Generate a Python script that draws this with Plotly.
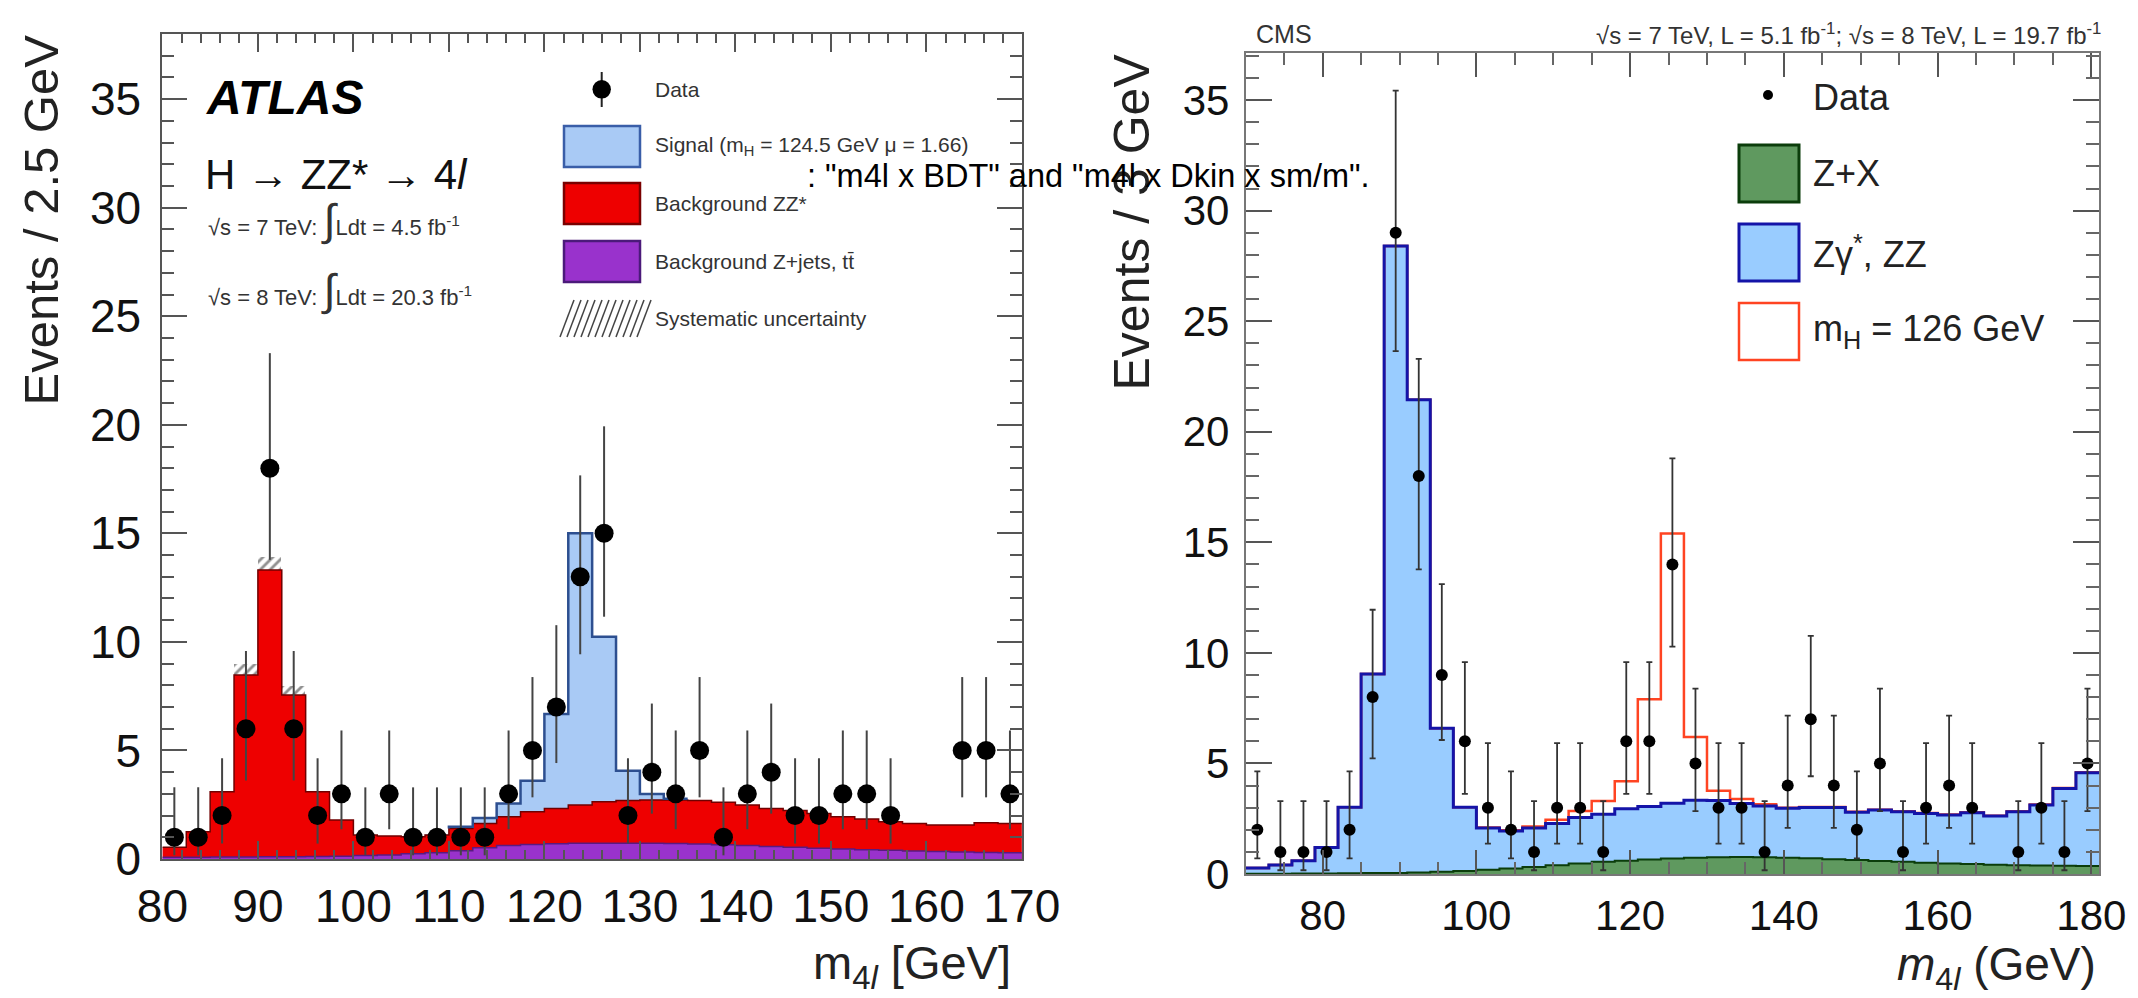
import plotly.graph_objects as go

W, H = 2138, 998
FONT = "Liberation Sans, Arial, Helvetica, sans-serif"

# ---------------- ATLAS (left) ----------------
atlas_edges = [80, 82.5, 85, 87.5, 90, 92.5, 95, 97.5, 100, 102.5, 105, 107.5, 110, 112.5,
               115, 117.5, 120, 122.5, 125, 127.5, 130, 132.5, 135, 137.5, 140, 142.5, 145,
               147.5, 150, 152.5, 155, 157.5, 160, 162.5, 165, 167.5, 170]
atlas_data = [1, 1, 2, 6, 18, 6, 2, 3, 1, 3, 1, 1, 1, 1, 3, 5, 7, 13, 15, 2, 4, 3, 5, 1,
              3, 4, 2, 2, 3, 3, 2, 0, 0, 5, 5, 3]
atlas_err_up = [2.30, 2.30, 2.64, 3.58, 5.30, 3.58, 2.64, 2.92, 2.30, 2.92, 2.30, 2.30, 2.30,
                2.30, 2.92, 3.38, 3.77, 4.67, 4.93, 2.64, 3.16, 2.92, 3.38, 2.30, 2.92, 3.16,
                2.64, 2.64, 2.92, 2.92, 2.64, 0, 0, 3.38, 3.38, 2.92]
atlas_err_dn = [0.83, 0.83, 1.29, 2.38, 4.22, 2.38, 1.29, 1.63, 0.83, 1.63, 0.83, 0.83, 0.83,
                0.83, 1.63, 2.16, 2.58, 3.57, 3.84, 1.29, 1.91, 1.63, 2.16, 0.83, 1.63, 1.91,
                1.29, 1.29, 1.63, 1.63, 1.29, 0, 0, 2.16, 2.16, 1.63]
atlas_zjets = [0.08, 0.08, 0.09, 0.09, 0.10, 0.10, 0.11, 0.13, 0.16, 0.19, 0.24, 0.29, 0.38,
               0.52, 0.62, 0.67, 0.70, 0.72, 0.73, 0.73, 0.72, 0.71, 0.69, 0.66, 0.62, 0.58,
               0.54, 0.50, 0.46, 0.43, 0.40, 0.37, 0.34, 0.32, 0.30, 0.29]
atlas_zz = [0.46, 1.18, 3.01, 8.39, 13.21, 7.45, 2.99, 1.67, 0.94, 0.87, 0.78, 0.81, 1.03,
            1.12, 1.33, 1.51, 1.63, 1.77, 1.91, 1.96, 2.00, 2.01, 2.00, 1.95, 1.87, 1.75,
            1.69, 1.60, 1.49, 1.41, 1.32, 1.27, 1.23, 1.25, 1.37, 1.35]
atlas_signal = [0, 0, 0, 0, 0, 0, 0, 0, 0, 0, 0, 0.05, 0.08, 0.25, 0.61, 1.43, 4.35, 12.51,
                7.60, 1.38, 0.27, 0.06, 0, 0, 0, 0, 0, 0, 0, 0, 0, 0, 0, 0, 0, 0]
atlas_syst = [0, 0, 0, 0.50, 0.62, 0.42, 0, 0, 0, 0, 0, 0, 0, 0, 0, 0, 0, 0, 0, 0, 0, 0, 0, 0,
              0, 0, 0, 0, 0, 0, 0, 0, 0, 0, 0, 0]
atlas_xticks = [80, 90, 100, 110, 120, 130, 140, 150, 160, 170]
atlas_yticks = [0, 5, 10, 15, 20, 25, 30, 35]

# ---------------- CMS (right) ----------------
cms_edges = [70, 73, 76, 79, 82, 85, 88, 91, 94, 97, 100, 103, 106, 109, 112, 115, 118, 121,
             124, 127, 130, 133, 136, 139, 142, 145, 148, 151, 154, 157, 160, 163, 166, 169,
             172, 175, 178, 181]
cms_data = [2, 1, 1, 1, 2, 8, 29, 18, 9, 6, 3, 2, 1, 3, 3, 1, 6, 6, 14, 5, 3, 3, 1, 4, 7, 4,
            2, 5, 1, 3, 4, 3, 0, 1, 3, 1, 5]
cms_err_up = [2.64, 2.30, 2.30, 2.30, 2.64, 3.95, 6.43, 5.30, 4.11, 3.58, 2.92, 2.64, 2.30,
              2.92, 2.92, 2.30, 3.58, 3.58, 4.80, 3.38, 2.92, 2.92, 2.30, 3.16, 3.77, 3.16,
              2.64, 3.38, 2.30, 2.92, 3.16, 2.92, 0, 2.30, 2.92, 2.30, 3.38]
cms_err_dn = [1.29, 0.83, 0.83, 0.83, 1.29, 2.77, 5.35, 4.22, 2.94, 2.38, 1.63, 1.29, 0.83,
              1.63, 1.63, 0.83, 2.38, 2.38, 3.72, 2.16, 1.63, 1.63, 0.83, 1.91, 2.58, 1.91,
              1.29, 2.16, 0.83, 1.63, 1.91, 1.63, 0, 0.83, 1.63, 0.83, 2.16]
cms_zx = [0.01, 0.01, 0.02, 0.02, 0.03, 0.04, 0.05, 0.07, 0.10, 0.14, 0.19, 0.25, 0.32, 0.40,
          0.47, 0.55, 0.60, 0.66, 0.70, 0.74, 0.76, 0.77, 0.76, 0.74, 0.71, 0.67, 0.63, 0.59,
          0.55, 0.51, 0.48, 0.45, 0.42, 0.40, 0.38, 0.37, 0.36]
cms_zz = [0.26, 0.40, 0.58, 1.18, 2.99, 9.00, 28.35, 21.38, 6.49, 2.88, 1.89, 1.69, 1.76, 1.88,
          2.08, 2.15, 2.35, 2.39, 2.50, 2.59, 2.56, 2.42, 2.31, 2.23, 2.30, 2.34, 2.16, 2.30,
          2.27, 2.23, 2.19, 2.32, 2.20, 2.42, 2.74, 3.50, 4.22]
cms_signal = [0, 0, 0, 0, 0, 0, 0, 0, 0, 0, 0.02, 0.04, 0.07, 0.17, 0.30, 0.60, 1.25, 4.85,
              12.2, 2.87, 0.45, 0.20, 0.08, 0.03, 0.02, 0.02, 0.02, 0.02, 0.02, 0.02, 0.02,
              0.02, 0.02, 0.02, 0.02, 0.02, 0.02]
cms_xticks = [80, 100, 120, 140, 160, 180]
cms_yticks = [0, 5, 10, 15, 20, 25, 30, 35]


def px(x):
    return x / W


def py(y):
    return 1 - y / H


def step(edges, vals):
    return list(edges), list(vals) + [vals[-1]]


def centers(edges):
    return [(a + b) / 2 for a, b in zip(edges[:-1], edges[1:])]


fig = go.Figure()

# ---- ATLAS stack ----
a_red_top = [z + p for z, p in zip(atlas_zz, atlas_zjets)]
a_total = [r + s for r, s in zip(a_red_top, atlas_signal)]
a_cent = centers(atlas_edges)

for vals, fc in [(a_total, "#a9caf5"), (a_red_top, "#ee0000"), (atlas_zjets, "#9932cc")]:
    sx, sy = step(atlas_edges, vals)
    fig.add_trace(go.Scatter(x=sx, y=sy, mode="lines", line=dict(width=0, shape="hv"),
                             fill="tozeroy", fillcolor=fc, xaxis="x", yaxis="y",
                             hoverinfo="skip", showlegend=False))

sx, sy = step(atlas_edges, atlas_zjets)
fig.add_trace(go.Scatter(x=sx, y=sy, mode="lines", line=dict(width=1.5, shape="hv", color="#5a1a80"),
                         xaxis="x", yaxis="y", hoverinfo="skip", showlegend=False))
sx, sy = step(atlas_edges, a_red_top)
fig.add_trace(go.Scatter(x=sx, y=sy, mode="lines", line=dict(width=1.5, shape="hv", color="#700000"),
                         xaxis="x", yaxis="y", hoverinfo="skip", showlegend=False))
sig_idx = [i for i, s in enumerate(atlas_signal) if s > 0]
i0, i1 = sig_idx[0] + 1, sig_idx[-1] + 1
sx, sy = step(atlas_edges[i0:i1 + 1], a_total[i0:i1])
fig.add_trace(go.Scatter(x=[sx[0]] + sx, y=[a_red_top[i0]] + sy,
                         mode="lines", line=dict(width=2.5, shape="hv", color="#2d4f90"),
                         xaxis="x", yaxis="y", hoverinfo="skip", showlegend=False))

# systematic hatched band
hb = [(c, t - s, 2 * s) for c, t, s in zip(a_cent, a_total, atlas_syst) if s > 0]
fig.add_trace(go.Bar(x=[h[0] for h in hb], base=[h[1] for h in hb], y=[h[2] for h in hb],
                     width=2.5, xaxis="x", yaxis="y", hoverinfo="skip", showlegend=False,
                     marker=dict(color="rgba(0,0,0,0)", line=dict(width=0),
                                 pattern=dict(shape="/", fgcolor="#222", bgcolor="rgba(0,0,0,0)",
                                              size=7, solidity=0.4))))

# data
ad = [(c, n, u, d) for c, n, u, d in zip(a_cent, atlas_data, atlas_err_up, atlas_err_dn) if n > 0]
fig.add_trace(go.Scatter(x=[p[0] for p in ad], y=[p[1] for p in ad], mode="markers",
                         marker=dict(color="black", size=19),
                         error_y=dict(type="data", symmetric=False, array=[p[2] for p in ad],
                                      arrayminus=[p[3] for p in ad], color="#444", thickness=2, width=0),
                         xaxis="x", yaxis="y", hoverinfo="skip", showlegend=False))

# ---- CMS stack ----
c_bkg = [z + x for z, x in zip(cms_zz, cms_zx)]
c_tot = [b + s for b, s in zip(c_bkg, cms_signal)]
c_cent = centers(cms_edges)

sx, sy = step(cms_edges, c_bkg)
fig.add_trace(go.Scatter(x=sx, y=sy, mode="lines", line=dict(width=0, shape="hv"),
                         fill="tozeroy", fillcolor="#99ccff", xaxis="x2", yaxis="y2",
                         hoverinfo="skip", showlegend=False))
sx, sy = step(cms_edges, cms_zx)
fig.add_trace(go.Scatter(x=sx, y=sy, mode="lines", line=dict(width=2, shape="hv", color="#0b3d0b"),
                         fill="tozeroy", fillcolor="#5f995f", xaxis="x2", yaxis="y2",
                         hoverinfo="skip", showlegend=False))
sx, sy = step(cms_edges, c_tot)
fig.add_trace(go.Scatter(x=sx, y=sy, mode="lines", line=dict(width=2.5, shape="hv", color="#ff4422"),
                         xaxis="x2", yaxis="y2", hoverinfo="skip", showlegend=False))
sx, sy = step(cms_edges, c_bkg)
fig.add_trace(go.Scatter(x=sx, y=sy, mode="lines", line=dict(width=3, shape="hv", color="#1414a8"),
                         xaxis="x2", yaxis="y2", hoverinfo="skip", showlegend=False))

cd = [(c, n, u, d) for c, n, u, d in zip(c_cent, cms_data, cms_err_up, cms_err_dn) if n > 0]
fig.add_trace(go.Scatter(x=[p[0] for p in cd], y=[p[1] for p in cd], mode="markers",
                         marker=dict(color="black", size=12),
                         error_y=dict(type="data", symmetric=False, array=[p[2] for p in cd],
                                      arrayminus=[p[3] for p in cd], color="#333", thickness=1.8, width=3),
                         xaxis="x2", yaxis="y2", hoverinfo="skip", showlegend=False))

# ---- axes ----
axis_common = dict(showgrid=False, zeroline=False, showline=True, linecolor="#555", linewidth=2,
                   ticks="inside", tickcolor="#555", tickwidth=2, mirror="allticks",
                   automargin=False, tickfont=dict(family=FONT, color="#111"))

fig.update_layout(
    width=W, height=H, autosize=False,
    margin=dict(l=0, r=0, t=0, b=0, pad=0, autoexpand=False),
    paper_bgcolor="white", plot_bgcolor="white",
    barmode="overlay", bargap=0,
    xaxis=dict(axis_common, domain=[px(162.4), px(1021.9)], range=[80, 170], anchor="y",
               tickvals=atlas_xticks, ticklen=18,
               minor=dict(dtick=2, ticklen=9, ticks="inside", tickcolor="#555", tickwidth=2),
               tickfont=dict(family=FONT, size=46, color="#111"), ticklabelstandoff=6),
    yaxis=dict(axis_common, domain=[py(859), py(34)], range=[0, 38], anchor="x",
               tickvals=atlas_yticks, ticklen=25,
               minor=dict(dtick=1, ticklen=12, ticks="inside", tickcolor="#555", tickwidth=2),
               tickfont=dict(family=FONT, size=46, color="#111"), ticklabelstandoff=10),
    xaxis2=dict(axis_common, domain=[px(1245.8), px(2099)], range=[70, 181], anchor="y2",
                tickvals=cms_xticks, ticklen=24,
                minor=dict(dtick=5, ticklen=12, ticks="inside", tickcolor="#666", tickwidth=2),
                tickfont=dict(family=FONT, size=42, color="#111"), ticklabelstandoff=4, linecolor="#777"),
    yaxis2=dict(axis_common, domain=[py(874), py(53)], range=[0, 37.13], anchor="x2",
                tickvals=cms_yticks, ticklen=26,
                minor=dict(dtick=1, ticklen=13, ticks="inside", tickcolor="#666", tickwidth=2),
                tickfont=dict(family=FONT, size=42, color="#111"), ticklabelstandoff=6, linecolor="#777"),
)

ann = []
shapes = []


def text(x, y, s, size, color="#222", xa="left", ya="middle", angle=0, **kw):
    ann.append(dict(x=px(x), y=py(y), xref="paper", yref="paper", text=s, showarrow=False,
                    xanchor=xa, yanchor=ya, textangle=angle, borderpad=0,
                    font=dict(family=FONT, size=size, color=color), **kw))


# axis titles
text(40, 34, "Events / 2.5 GeV", 49, "#222", xa="center", ya="top", angle=-90)
text(1012, 966, "m<sub>4<i>l</i></sub> [GeV]", 47, "#222", xa="right")
text(1131, 53, "Events / 3 GeV", 50, "#222", xa="center", ya="top", angle=-90)
text(2097, 967, "<i>m</i><sub>4<i>l</i></sub> (GeV)", 46, "#222", xa="right")

# ATLAS texts
text(205, 97, "<b><i>ATLAS</i></b>", 48, "black")
text(204, 174, "H → ZZ* → 4<i>l</i>", 42, "#111")
text(207, 220, "√s = 7 TeV: <span style='font-size:44px'>∫</span>Ldt = 4.5 fb<sup>-1</sup>", 22, "#333")
text(207, 290, "√s = 8 TeV: <span style='font-size:44px'>∫</span>Ldt = 20.3 fb<sup>-1</sup>", 22, "#333")

# ATLAS legend
shapes.append(dict(type="line", xref="paper", yref="paper", x0=px(601.7), x1=px(601.7),
                   y0=py(72), y1=py(107), line=dict(color="#222", width=2)))
shapes.append(dict(type="circle", xref="paper", yref="paper", x0=px(592.5), x1=px(610.9),
                   y0=py(80), y1=py(98.6), fillcolor="black", line=dict(color="black", width=0)))
text(654, 90, "Data", 21, "#333")
for (y0, y1, fc, lc, lab) in [
        (126, 167, "#a9caf5", "#3a5ea8", "Signal (m<sub>H</sub> = 124.5 GeV μ = 1.66)"),
        (183, 224, "#ee0000", "#7a0000", "Background ZZ*"),
        (241, 282, "#9932cc", "#4b1a7a", "Background Z+jets, tt̄")]:
    shapes.append(dict(type="rect", xref="paper", yref="paper", x0=px(564), x1=px(640),
                       y0=py(y1), y1=py(y0), fillcolor=fc, line=dict(color=lc, width=2.5)))
    text(654, (y0 + y1) / 2, lab, 21, "#333")
for k in range(12):
    xb = 560 + k * 7
    shapes.append(dict(type="line", xref="paper", yref="paper", x0=px(xb), x1=px(xb + 14),
                       y0=py(337), y1=py(300), line=dict(color="#444", width=1.5)))
text(654, 318, "Systematic uncertainty", 21, "#333")

# CMS labels
text(1255, 34, "CMS", 25, "#333")
text(2102, 34, "√s = 7 TeV, L = 5.1 fb<sup>-1</sup>; √s = 8 TeV, L = 19.7 fb<sup>-1</sup>", 24, "#333", xa="right")

# CMS legend
shapes.append(dict(type="circle", xref="paper", yref="paper", x0=px(1763), x1=px(1773),
                   y0=py(100), y1=py(90), fillcolor="black", line=dict(color="black", width=0)))
text(1812, 98, "Data", 36, "#222")
for (y0, y1, fc, lc, lw, lab) in [
        (145, 202, "#5f995f", "#0b3d0b", 3, "Z+X"),
        (224, 281, "#99ccff", "#1414a8", 3, "Zγ<sup>*</sup>, ZZ"),
        (303, 360, "rgba(0,0,0,0)", "#ff4422", 2.5, "m<sub>H</sub> = 126 GeV")]:
    shapes.append(dict(type="rect", xref="paper", yref="paper", x0=px(1739), x1=px(1799),
                       y0=py(y1), y1=py(y0), fillcolor=fc, line=dict(color=lc, width=lw)))
    text(1812, (y0 + y1) / 2, lab, 36, "#222")

# overlay caption text
text(806, 176, ': "m4l x BDT" and "m4l x Dkin x sm/m".', 32.5, "black")

fig.update_layout(annotations=ann, shapes=shapes)
fig.write_html("out.html")
